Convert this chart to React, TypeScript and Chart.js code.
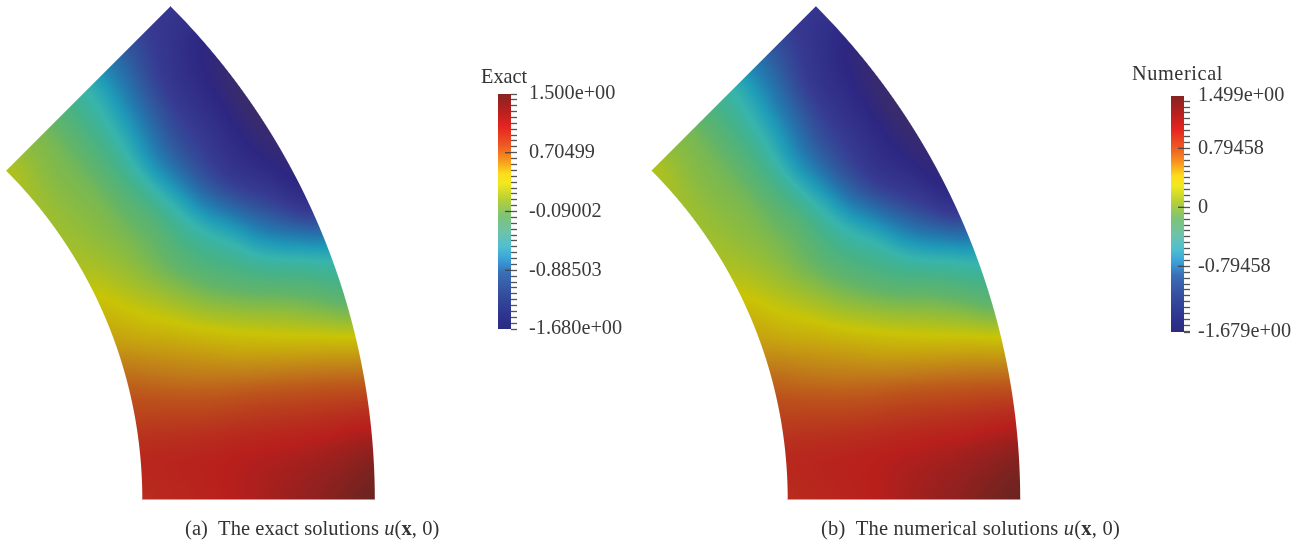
import React, { useEffect, useRef } from "react";
import { Chart, registerables } from "chart.js";

Chart.register(...registerables);

// Field tables: rows = polar angle (degrees), columns = radius
const radii = [2, 2.125, 2.25, 2.375, 2.5, 2.625, 2.75, 2.875, 3];
const anglesDeg = [0, 5, 10, 15, 20, 25, 30, 35, 40, 45];
const exactValues = [
  [1.15, 1.18, 1.21, 1.25, 1.3, 1.35, 1.4, 1.45, 1.5],
  [1.18, 1.19, 1.2, 1.22, 1.24, 1.25, 1.27, 1.3, 1.33],
  [1.0, 0.98, 0.95, 0.93, 0.92, 0.9, 0.87, 0.84, 0.8],
  [0.78, 0.7, 0.62, 0.54, 0.45, 0.37, 0.29, 0.2, 0.1],
  [0.5, 0.4, 0.3, 0.17, 0.05, -0.06, -0.17, -0.3, -0.45],
  [0.33, 0.22, 0.09, -0.06, -0.25, -0.47, -0.8, -1.08, -1.33],
  [0.2, 0.12, 0.02, -0.14, -0.5, -0.93, -1.24, -1.43, -1.6],
  [0.15, 0.08, -0.01, -0.25, -0.68, -1.05, -1.28, -1.48, -1.68],
  [0.16, 0.07, -0.02, -0.24, -0.58, -0.95, -1.25, -1.42, -1.55],
  [0.22, 0.1, 0, -0.2, -0.47, -0.8, -1.08, -1.26, -1.3],
];
const numericalValues = [
  [1.15, 1.18, 1.21, 1.25, 1.31, 1.36, 1.41, 1.46, 1.499],
  [1.17, 1.19, 1.2, 1.22, 1.24, 1.26, 1.28, 1.31, 1.34],
  [1.0, 0.98, 0.95, 0.93, 0.92, 0.9, 0.87, 0.84, 0.8],
  [0.78, 0.7, 0.62, 0.54, 0.45, 0.37, 0.29, 0.2, 0.09],
  [0.5, 0.4, 0.3, 0.17, 0.05, -0.07, -0.18, -0.32, -0.48],
  [0.33, 0.22, 0.09, -0.06, -0.25, -0.47, -0.81, -1.1, -1.35],
  [0.2, 0.12, 0.02, -0.14, -0.5, -0.93, -1.25, -1.44, -1.61],
  [0.15, 0.08, -0.01, -0.25, -0.68, -1.05, -1.29, -1.49, -1.679],
  [0.16, 0.07, -0.02, -0.24, -0.58, -0.95, -1.26, -1.43, -1.56],
  [0.22, 0.1, 0, -0.2, -0.47, -0.8, -1.08, -1.27, -1.31],
];

const fieldStopValues = [-1.68, -1.5, -1.25, -1.05, -0.85, -0.65, -0.45, -0.25, -0.05, 0.1, 0.3, 0.5, 0.7, 0.9, 1.1, 1.25, 1.4, 1.5];
const fieldStopColors = ["#3a2b6a", "#2d2782", "#373a92", "#30589e", "#2378ae", "#1f9cb8", "#37b4ac", "#45b288", "#62b468", "#8fbc3c", "#c9c406", "#c6a010", "#c07a1a", "#bc501c", "#b8321e", "#b81f1c", "#8e211f", "#6a2420"];

const barStopOffsets = [0, 0.07, 0.14, 0.22, 0.28, 0.34, 0.38, 0.45, 0.52, 0.59, 0.65, 0.705, 0.76, 0.845, 0.93, 1];
const barStopColors = ["#862421", "#b5201f", "#e52420", "#ee5a24", "#f7941d", "#fcdd1c", "#f2e81e", "#b5cf37", "#7dc378", "#6dc2ab", "#4fbfd0", "#3a9fd8", "#3a6fb8", "#35509f", "#2f3691", "#2b2a80"];

const exactTickLabels = ["1.500e+00", "0.70499", "-0.09002", "-0.88503", "-1.680e+00"];
const exactMajorTicks = [1.5, 0.70499, -0.09002, -0.88503, -1.68];
const numericalTickLabels = ["1.499e+00", "0.79458", "0", "-0.79458", "-1.679e+00"];
const numericalMajorTicks = [0.79458, 0, -0.79458];
const numericalLabelTicks = [1.499, 0.79458, 0, -0.79458, -1.679];

const hex = (c: string) => [1, 3, 5].map((i) => parseInt(c.slice(i, i + 2), 16));
const fieldRgb = fieldStopColors.map(hex);

function colorOf(v: number) {
  const n = fieldStopValues.length;
  if (v <= fieldStopValues[0]) return fieldRgb[0];
  if (v >= fieldStopValues[n - 1]) return fieldRgb[n - 1];
  let i = 0;
  while (v > fieldStopValues[i + 1]) i++;
  const t = (v - fieldStopValues[i]) / (fieldStopValues[i + 1] - fieldStopValues[i]);
  return fieldRgb[i].map((c, k) => c + (fieldRgb[i + 1][k] - c) * t);
}

function cubicWeights(t: number) {
  return [
    0.5 * (-t + 2 * t * t - t * t * t),
    0.5 * (2 - 5 * t * t + 3 * t * t * t),
    0.5 * (t + 4 * t * t - 3 * t * t * t),
    0.5 * (-t * t + t * t * t),
  ];
}

function sample(table: number[][], a: number, b: number) {
  const rows = table.length;
  const cols = table[0].length;
  const i = Math.min(Math.floor(a), rows - 2);
  const j = Math.min(Math.floor(b), cols - 2);
  const wa = cubicWeights(a - i);
  const wb = cubicWeights(b - j);
  let s = 0;
  for (let p = 0; p < 4; p++) {
    const row = table[Math.max(0, Math.min(rows - 1, i + p - 1))];
    for (let q = 0; q < 4; q++) {
      s += wa[p] * wb[q] * row[Math.max(0, Math.min(cols - 1, j + q - 1))];
    }
  }
  return s;
}

const fieldPlugin = {
  id: "fieldShading",
  beforeDatasetsDraw(chart: any) {
    const ctx = chart.ctx as CanvasRenderingContext2D;
    chart.data.datasets.forEach((ds: any) => {
      const xs = chart.scales[ds.xAxisID];
      const ys = chart.scales.y;
      const table = ds.table as number[][];
      const rMin = radii[0];
      const rMax = radii[radii.length - 1];
      const thMax = anglesDeg[anglesDeg.length - 1];
      const unit = Math.abs(xs.getPixelForValue(1) - xs.getPixelForValue(0));
      const left = Math.floor(xs.getPixelForValue(rMin * Math.cos((thMax * Math.PI) / 180))) - 2;
      const right = Math.ceil(xs.getPixelForValue(rMax)) + 2;
      const top = Math.floor(ys.getPixelForValue(rMax * Math.sin((thMax * Math.PI) / 180))) - 2;
      const bottom = Math.ceil(ys.getPixelForValue(0)) + 2;
      const w = right - left;
      const h = bottom - top;
      const img = ctx.createImageData(w, h);
      for (let py = 0; py < h; py++) {
        const dy = ys.getValueForPixel(top + py + 0.5);
        for (let px = 0; px < w; px++) {
          const dx = xs.getValueForPixel(left + px + 0.5);
          const r = Math.hypot(dx, dy);
          const th = (Math.atan2(dy, dx) * 180) / Math.PI;
          const dEdge = Math.min(
            (r - rMin) * unit,
            (rMax - r) * unit,
            dy * unit,
            ((thMax - th) * Math.PI / 180) * r * unit
          );
          const alpha = Math.max(0, Math.min(1, dEdge + 0.5));
          if (alpha <= 0) continue;
          const rc = Math.max(rMin, Math.min(rMax, r));
          const tc = Math.max(0, Math.min(thMax, th));
          const a = tc / (anglesDeg[1] - anglesDeg[0]);
          const b = (rc - rMin) / (radii[1] - radii[0]);
          const c = colorOf(sample(table, a, b));
          const o = (py * w + px) * 4;
          img.data[o] = c[0];
          img.data[o + 1] = c[1];
          img.data[o + 2] = c[2];
          img.data[o + 3] = alpha * 255;
        }
      }
      const off = document.createElement("canvas");
      off.width = w;
      off.height = h;
      off.getContext("2d")!.putImageData(img, 0, 0);
      ctx.drawImage(off, left, top);
    });
  },
};

function nodes(table: number[][]) {
  const out: { x: number; y: number; v: number }[] = [];
  table.forEach((row, i) =>
    row.forEach((v, j) => {
      const t = (anglesDeg[i] * Math.PI) / 180;
      out.push({ x: radii[j] * Math.cos(t), y: radii[j] * Math.sin(t), v });
    })
  );
  return out;
}

function useFieldChart(ref: React.RefObject<HTMLCanvasElement | null>) {
  useEffect(() => {
    const unit = 232.5;
    const cx = -322.7;
    const cy = 499.5;
    const chart = new Chart(ref.current!, {
      type: "scatter",
      data: {
        datasets: [
          { label: "Exact", data: nodes(exactValues), table: exactValues, xAxisID: "x", yAxisID: "y", pointRadius: 0 } as any,
          { label: "Numerical", data: nodes(numericalValues), table: numericalValues, xAxisID: "x2", yAxisID: "y", pointRadius: 0 } as any,
        ],
      },
      options: {
        animation: false,
        responsive: false,
        layout: { padding: 0 },
        plugins: { legend: { display: false }, tooltip: { enabled: false } },
        scales: {
          x: { type: "linear", display: false, min: -cx / unit, max: (1302 - cx) / unit },
          x2: { type: "linear", display: false, min: -(cx + 645.4) / unit, max: (1302 - cx - 645.4) / unit },
          y: { type: "linear", display: false, min: (cy - 544) / unit, max: cy / unit },
        },
      },
      plugins: [fieldPlugin],
    } as any);
    return () => chart.destroy();
  }, []);
}

const innerTickPlugin = {
  id: "innerTicks",
  afterDatasetsDraw(chart: any, _a: any, opts: any) {
    const ctx = chart.ctx;
    const { right } = chart.chartArea;
    ctx.save();
    ctx.strokeStyle = "#444";
    ctx.lineWidth = 1.3;
    (opts.values as number[]).forEach((v) => {
      const y = chart.scales.y.getPixelForValue(v);
      ctx.beginPath();
      ctx.moveTo(right - 6, y);
      ctx.lineTo(right, y);
      ctx.stroke();
    });
    ctx.restore();
  },
};

interface BarProps {
  name: string;
  min: number;
  max: number;
  ticks: number[];
  labelTicks: number[];
  labels: string[];
  inner: number[];
  left: number;
  top: number;
  barHeight: number;
  labelPad: number;
}

function ColorBar({ name, min, max, ticks, labelTicks, labels, inner, left, top, barHeight, labelPad }: BarProps) {
  const ref = useRef<HTMLCanvasElement>(null);
  useEffect(() => {
    const chart = new Chart(ref.current!, {
      type: "bar",
      data: {
        labels: [name],
        datasets: [
          {
            data: [[min, max]],
            barPercentage: 1,
            categoryPercentage: 1,
            backgroundColor: (c: any) => {
              const a = c.chart.chartArea;
              if (!a) return "#888";
              const g = c.chart.ctx.createLinearGradient(0, a.top, 0, a.bottom);
              barStopOffsets.forEach((o, i) => g.addColorStop(o, barStopColors[i]));
              return g;
            },
          },
        ],
      },
      options: {
        animation: false,
        responsive: false,
        layout: { padding: { top: 15, bottom: 15 } },
        plugins: { legend: { display: false }, tooltip: { enabled: false }, innerTicks: { values: inner } },
        scales: {
          x: { display: false },
          y: {
            position: "right",
            min,
            max,
            afterFit: (s: any) => {
              s.width = 127;
              s.paddingTop = 0;
              s.paddingBottom = 0;
            },
            afterBuildTicks: (s: any) => {
              s.ticks = [...ticks, ...labelTicks.filter((v) => !ticks.includes(v))]
                .sort((p, q) => q - p)
                .map((value) => ({ value }));
            },
            border: { display: false },
            grid: {
              drawOnChartArea: false,
              tickLength: 6,
              tickWidth: 1.3,
              tickColor: (c: any) => (ticks.includes(c.tick.value) ? "#555" : "rgba(0,0,0,0)"),
            },
            ticks: {
              autoSkip: false,
              maxRotation: 0,
              padding: labelPad,
              color: "#3a3a3a",
              font: { family: "'Liberation Serif'", size: 20.3 },
              callback: (v: any) => {
                const i = labelTicks.indexOf(v);
                return i >= 0 ? labels[i] : "";
              },
            },
          },
        },
      },
      plugins: [innerTickPlugin],
    } as any);
    return () => chart.destroy();
  }, []);
  return (
    <canvas
      ref={ref}
      width={140}
      height={barHeight + 30}
      style={{ position: "absolute", left, top, width: 140, height: barHeight + 30 }}
    />
  );
}

const exactTicks = Array.from({ length: 41 }, (_, i) => 1.5 - (i * 3.18) / 40).map((v, i) =>
  i % 10 === 0 ? exactMajorTicks[i / 10] : v
);
const numericalTicks = Array.from({ length: 40 }, (_, i) => (18 - i) * 0.079458).map((v) =>
  Math.abs(v) < 1e-9 ? 0 : Math.abs(Math.abs(v) - 0.79458) < 1e-9 ? Math.sign(v) * 0.79458 : v
).concat([-1.679]);

const textStyle: React.CSSProperties = {
  position: "absolute",
  fontFamily: "'Liberation Serif', serif",
  color: "#333",
  whiteSpace: "pre",
  lineHeight: 1,
};

function Caption({ left, top, tag, rest, spacing }: { left: number; top: number; tag: string; rest: string; spacing: number }) {
  return (
    <div style={{ ...textStyle, left, top, fontSize: 20.5, letterSpacing: spacing }}>
      {tag}
      {"  "}
      {rest} <i>u</i>(<b>x</b>, 0)
    </div>
  );
}

export default function App() {
  const ref = useRef<HTMLCanvasElement>(null);
  useFieldChart(ref);
  return (
    <div style={{ position: "fixed", left: 0, top: 0, width: 1302, height: 544, overflow: "hidden", background: "#fff" }}>
      <canvas ref={ref} width={1302} height={544} style={{ position: "absolute", left: 0, top: 0, width: 1302, height: 544 }} />
      <div style={{ ...textStyle, left: 481, top: 66, fontSize: 20.3 }}>Exact</div>
      <div style={{ ...textStyle, left: 1132, top: 63, fontSize: 20.3, letterSpacing: 0.6 }}>Numerical</div>
      <ColorBar
        name="Exact"
        min={-1.68}
        max={1.5}
        ticks={exactTicks}
        labelTicks={exactMajorTicks}
        labels={exactTickLabels}
        inner={exactMajorTicks.slice(1, 4)}
        left={498}
        top={79}
        barHeight={235}
        labelPad={12}
      />
      <ColorBar
        name="Numerical"
        min={-1.679}
        max={1.499}
        ticks={numericalTicks}
        labelTicks={numericalLabelTicks}
        labels={numericalTickLabels}
        inner={numericalMajorTicks}
        left={1171}
        top={81}
        barHeight={236}
        labelPad={8}
      />
      <Caption left={185} top={518} tag="(a)" rest="The exact solutions" spacing={0.08} />
      <Caption left={821} top={518} tag="(b)" rest="The numerical solutions" spacing={0.2} />
    </div>
  );
}
